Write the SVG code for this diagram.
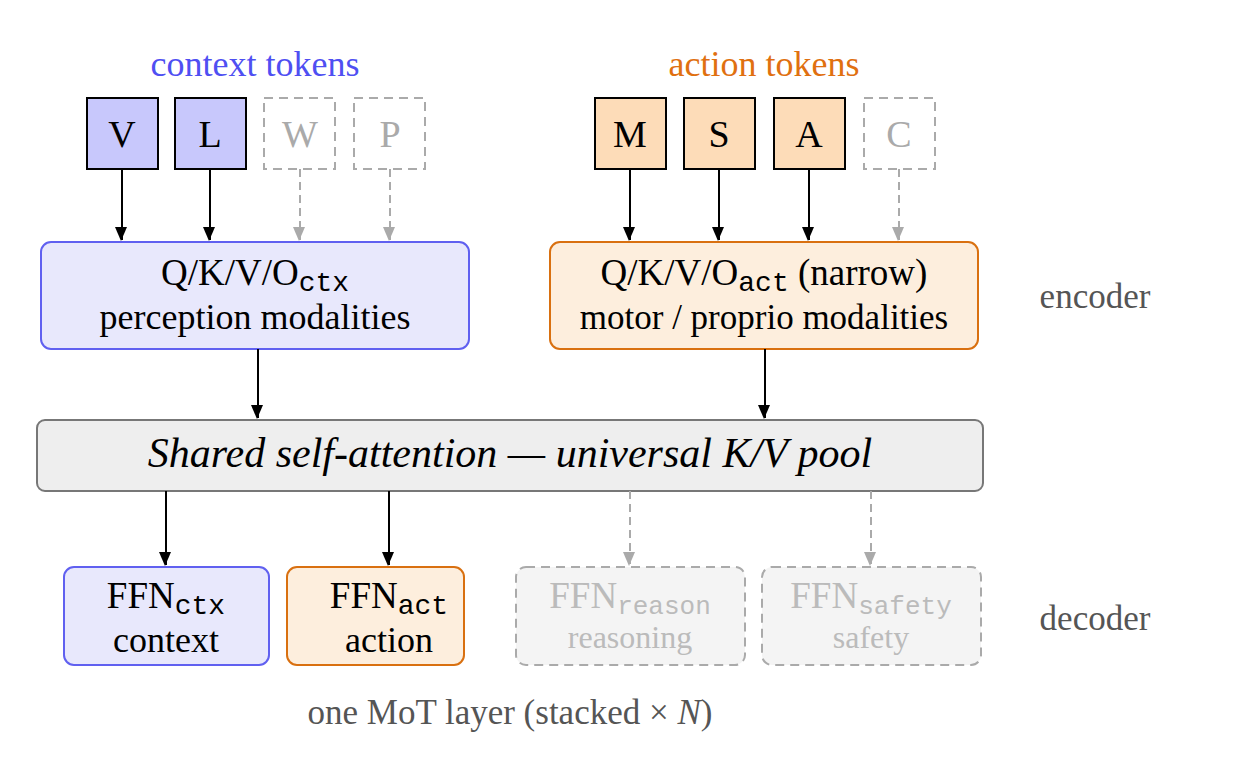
<svg xmlns="http://www.w3.org/2000/svg" width="1236" height="774" viewBox="0 0 1236 774">
<style>
text{font-family:"Liberation Serif",serif;text-anchor:middle}
.m{font-family:"Liberation Mono",monospace}
.tb{fill:#c8c8fc;stroke:#000;stroke-width:2}
.to{fill:#fddcb8;stroke:#000;stroke-width:2}
.tg{fill:none;stroke:#aaa;stroke-width:2;stroke-dasharray:9 6}
.a{stroke:#000;stroke-width:2;fill:none;marker-end:url(#ak)}
.d{stroke:#aaa;stroke-width:2;fill:none;stroke-dasharray:8 5;marker-end:url(#ag)}
</style>
<defs>
<marker id="ak" viewBox="0 0 12 14" refX="7" refY="13" markerWidth="12" markerHeight="14" markerUnits="userSpaceOnUse" orient="0"><path d="M0,0L12,0L6,14z" fill="#000"/></marker>
<marker id="ag" viewBox="0 0 12 14" refX="7" refY="13" markerWidth="12" markerHeight="14" markerUnits="userSpaceOnUse" orient="0"><path d="M0,0L12,0L6,14z" fill="#aaa"/></marker>
</defs>
<text x="255" y="76" font-size="36" fill="#4f4ff2">context tokens</text>
<text x="764" y="76" font-size="36" fill="#e07010">action tokens</text>
<g id="tV"><rect class="tb" x="87" y="98" width="71" height="71"/><text x="122" y="147" font-size="38">V</text></g>
<g id="tL"><rect class="tb" x="175" y="98" width="71" height="71"/><text x="210" y="147" font-size="38">L</text></g>
<g id="tW"><rect class="tg" x="264" y="98" width="71" height="71"/><text x="300" y="147" font-size="38" fill="#aaa">W</text></g>
<g id="tP"><rect class="tg" x="354" y="98" width="71" height="71"/><text x="390" y="147" font-size="38" fill="#aaa">P</text></g>
<g id="tM"><rect class="to" x="595" y="98" width="71" height="71"/><text x="630" y="147" font-size="38">M</text></g>
<g id="tS"><rect class="to" x="684" y="98" width="71" height="71"/><text x="719" y="147" font-size="38">S</text></g>
<g id="tA"><rect class="to" x="774" y="98" width="71" height="71"/><text x="809" y="147" font-size="38">A</text></g>
<g id="tC"><rect class="tg" x="864" y="98" width="71" height="71"/><text x="899" y="147" font-size="38" fill="#aaa">C</text></g>
<g id="qctx"><rect x="41" y="242" width="428" height="107" rx="10" fill="#e8e8fc" stroke="#6060f0" stroke-width="2"/>
<text x="255" y="285" font-size="37">Q/K/V/O<tspan class="m" font-size="28" dy="6">ctx</tspan></text>
<text x="255" y="329" font-size="36">perception modalities</text></g>
<g id="qact"><rect x="550" y="242" width="428" height="107" rx="10" fill="#fdeedd" stroke="#d97010" stroke-width="2"/>
<text x="764" y="285" font-size="37">Q/K/V/O<tspan class="m" font-size="28" dy="6">act</tspan><tspan dy="-6"> (narrow)</tspan></text>
<text x="764" y="329" font-size="35">motor / proprio modalities</text></g>
<text x="1095" y="308" font-size="35" fill="#555">encoder</text>
<g id="shared"><rect x="37" y="420" width="946" height="71" rx="8" fill="#eee" stroke="#777" stroke-width="2"/>
<text x="510" y="467" font-size="42" font-style="italic">Shared self-attention — universal K/V pool</text></g>
<g id="fctx"><rect x="64" y="567" width="205" height="98" rx="10" fill="#e8e8fc" stroke="#6060f0" stroke-width="2"/>
<text x="166" y="608" font-size="37">FFN<tspan class="m" font-size="28" dy="6">ctx</tspan></text><text x="166" y="652" font-size="36">context</text></g>
<g id="fact"><rect x="287" y="567" width="177" height="98" rx="10" fill="#fdeedd" stroke="#d97010" stroke-width="2"/>
<text x="389" y="608" font-size="37">FFN<tspan class="m" font-size="28" dy="6">act</tspan></text><text x="389" y="652" font-size="36">action</text></g>
<g id="freason"><rect x="516" y="567" width="229" height="98" rx="10" fill="#f4f4f4" stroke="#aaa" stroke-width="2" stroke-dasharray="9 6"/>
<text x="630" y="608" font-size="37" fill="#bbb">FFN<tspan class="m" font-size="26" dy="6">reason</tspan></text><text x="630" y="648" font-size="32" fill="#bbb">reasoning</text></g>
<g id="fsafety"><rect x="762" y="567" width="219" height="98" rx="10" fill="#f4f4f4" stroke="#aaa" stroke-width="2" stroke-dasharray="9 6"/>
<text x="871" y="608" font-size="37" fill="#bbb">FFN<tspan class="m" font-size="26" dy="6">safety</tspan></text><text x="871" y="648" font-size="32" fill="#bbb">safety</text></g>
<text x="1095" y="630" font-size="35" fill="#555">decoder</text>
<text x="510" y="724" font-size="35" fill="#555">one MoT layer (stacked × <tspan font-style="italic">N</tspan>)</text>
<g id="connectors">
<path class="a" d="M122,169V240"/><path class="a" d="M210,169V240"/>
<path class="a" d="M630,169V240"/><path class="a" d="M719,169V240"/><path class="a" d="M809,169V240"/>
<path class="a" d="M258,349V418"/><path class="a" d="M765,349V418"/>
<path class="a" d="M166,491V565"/><path class="a" d="M389,491V565"/>
<path class="d" d="M300,169V240"/><path class="d" d="M390,169V240"/><path class="d" d="M899,169V240"/>
<path class="d" d="M630,491V565"/><path class="d" d="M871,491V565"/>
</g>
</svg>
